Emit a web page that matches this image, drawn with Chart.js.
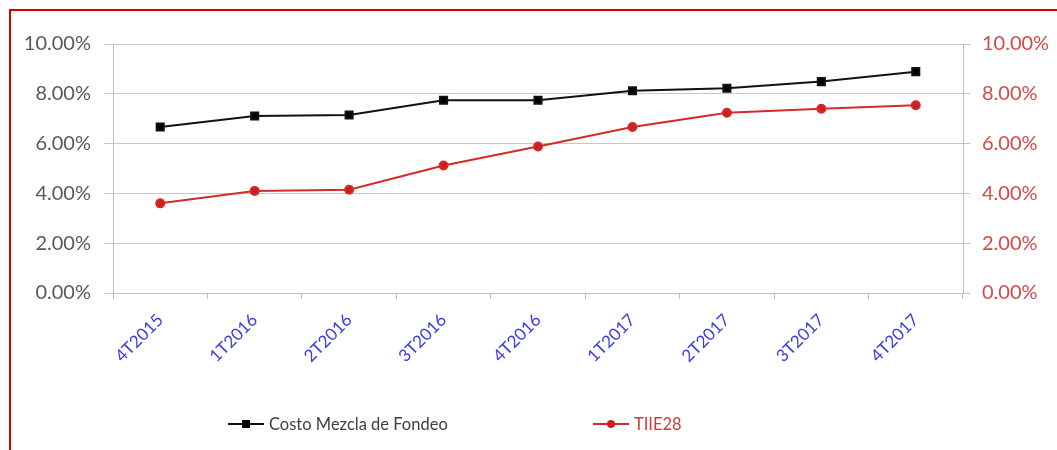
<!DOCTYPE html>
<html>
<head>
<meta charset="utf-8">
<script src="https://cdn.jsdelivr.net/npm/chart.js@4.4.1/dist/chart.umd.min.js"></script>
<style>
  html, body { margin:0; padding:0; background:#fff; overflow:hidden; }
  #wrap { position:relative; width:1057px; height:450px; overflow:hidden; }
  #frame { position:absolute; left:9px; top:9px; width:1200px; height:600px; border:2px solid #d00000; box-sizing:border-box; pointer-events:none; }
  #c { position:absolute; left:0; top:0; }
  .leg { position:absolute; top:412px; height:24px; display:flex; align-items:center; font-family:Lato, sans-serif; font-size:16.5px; }
  .sym { position:relative; width:36px; height:24px; margin-right:5px; }
  .sym .ln { position:absolute; left:0; right:0; top:11px; height:2px; }
  .sym .mk { position:absolute; left:14px; top:8px; width:8px; height:8px; }
</style>
</head>
<body>
<div id="wrap">
  <canvas id="c" width="1057" height="450"></canvas>
  <div id="frame"></div>
  <div id="leg1" class="leg" style="left:228px"></div>
  <div id="leg2" class="leg" style="left:593px"></div>
</div>
<script>
const categories = ['4T2015','1T2016','2T2016','3T2016','4T2016','1T2017','2T2017','3T2017','4T2017'];
const costoMezcla = [6.67, 7.11, 7.15, 7.74, 7.74, 8.12, 8.22, 8.49, 8.89];
const tiie28 = [3.60, 4.10, 4.15, 5.12, 5.88, 6.67, 7.24, 7.40, 7.54];
const yTicks = [0, 2, 4, 6, 8, 10];
const seriesNames = ['Costo Mezcla de Fondeo', 'TIIE28'];

const FONT = 'Lato, "Liberation Sans", sans-serif';
const fmt = v => v.toFixed(2) + '%';

const chart = new Chart(document.getElementById('c'), {
  type: 'line',
  data: {
    labels: categories,
    datasets: [
      { label: seriesNames[0], data: costoMezcla, yAxisID: 'y',
        borderColor: '#111111', backgroundColor: '#000000', borderWidth: 2,
        pointStyle: 'rect', pointRadius: 5, pointHoverRadius: 5, tension: 0 },
      { label: seriesNames[1], data: tiie28, yAxisID: 'y1',
        borderColor: '#d42a2a', backgroundColor: '#cc2020', borderWidth: 2,
        pointStyle: 'circle', pointRadius: 4, pointHoverRadius: 4, tension: 0 }
    ]
  },
  options: {
    responsive: false,
    animation: false,
    events: [],
    layout: { padding: { left: 0, right: 0, top: 44, bottom: 0 } },
    plugins: { legend: { display: false }, tooltip: { enabled: false } },
    scales: {
      x: {
        offset: true,
        grid: { offset: true, drawOnChartArea: false, drawTicks: true, tickLength: 6, color: '#bfbfbf', lineWidth: 1 },
        border: { color: '#bfbfbf', width: 1 },
        ticks: { color: '#3c3ce6', font: { family: FONT, size: 17 }, minRotation: 45, maxRotation: 45, padding: 11, autoSkip: false },
        afterFit: s => { s.height = 157; }
      },
      y: {
        position: 'left', min: 0, max: 10,
        afterBuildTicks: s => { s.ticks = yTicks.map(v => ({ value: v })); },
        grid: { color: '#c8c8c8', lineWidth: 1, tickLength: 9 },
        border: { color: '#bfbfbf', width: 1 },
        ticks: { color: '#595959', font: { family: FONT, size: 20 }, padding: 13, callback: v => fmt(v) },
        afterFit: s => { s.width = 113; }
      },
      y1: {
        position: 'right', min: 0, max: 10,
        afterBuildTicks: s => { s.ticks = yTicks.map(v => ({ value: v })); },
        grid: { drawOnChartArea: false, color: '#bfbfbf', tickLength: 7 },
        border: { color: '#bfbfbf', width: 1 },
        ticks: { color: '#d44a4a', font: { family: FONT, size: 20 }, padding: 12, callback: v => fmt(v) },
        afterFit: s => { s.width = 94; }
      }
    }
  }
});

// HTML legend built from the datasets
function buildLegend(el, ds, textColor, round) {
  const sym = document.createElement('div'); sym.className = 'sym';
  const ln = document.createElement('div'); ln.className = 'ln'; ln.style.background = ds.borderColor;
  const mk = document.createElement('div'); mk.className = 'mk'; mk.style.background = ds.backgroundColor;
  if (round) mk.style.borderRadius = '50%';
  sym.appendChild(ln); sym.appendChild(mk);
  const t = document.createElement('span'); t.textContent = ds.label; t.style.color = textColor;
  el.appendChild(sym); el.appendChild(t);
}
buildLegend(document.getElementById('leg1'), chart.data.datasets[0], '#404040', false);
buildLegend(document.getElementById('leg2'), chart.data.datasets[1], '#d03a3a', true);
</script>
</body>
</html>
